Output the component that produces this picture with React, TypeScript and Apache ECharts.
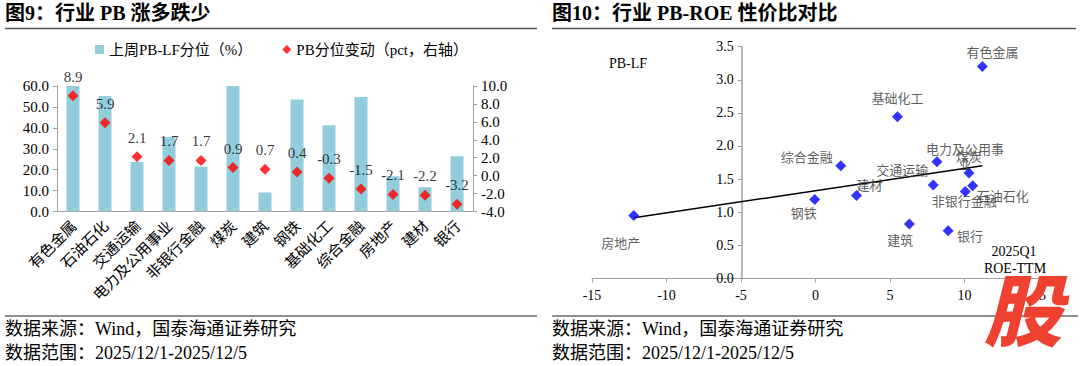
import React, { useEffect, useRef } from "react";
import * as echarts from "echarts";

// ---------- Figure 9 data ----------
const industries = ["有色金属", "石油石化", "交通运输", "电力及公用事业", "非银行金融", "煤炭", "建筑", "钢铁", "基础化工", "综合金融", "房地产", "建材", "银行"];
const pbPercentile = [60, 55.2, 23.7, 35.5, 21.5, 60, 9.1, 53.5, 41.2, 54.8, 16.9, 11.6, 26.4];
const pbChange = [8.9, 5.9, 2.1, 1.7, 1.7, 0.9, 0.7, 0.4, -0.3, -1.5, -2.1, -2.2, -3.2];

// ---------- Figure 10 data ----------
const scatterNames = ["有色金属", "基础化工", "电力及公用事业", "综合金融", "煤炭", "交通运输", "石油石化", "非银行金融", "建材", "钢铁", "建筑", "银行", "房地产"];
const roeTTM = [11.2, 5.5, 8.15, 1.7, 10.3, 7.9, 10.55, 10.05, 2.75, -0.05, 6.3, 8.9, -12.2];
const pbLF = [3.2, 2.44, 1.76, 1.7, 1.59, 1.41, 1.4, 1.31, 1.25, 1.19, 0.82, 0.72, 0.95];
const trendX = [-12.2, 11.2];
const trendY = [0.915, 1.7];

const SERIF = "'Times New Roman', 'Liberation Serif', 'Noto Sans CJK SC', serif";
const CJK = "'Noto Sans CJK SC', 'Liberation Serif', sans-serif";
const AXIS_GRAY = "#A0A0A0";

// label placement (style only)
const labelOffsets: Record<string, number[]> = {
  有色金属: [10, -15],
  基础化工: [0, -19],
  电力及公用事业: [28, -6],
  综合金融: [-34, -9],
  煤炭: [0, -18],
  交通运输: [-31, -15],
  石油石化: [30, 10],
  非银行金融: [-1, 9],
  建材: [13, -11],
  钢铁: [-11, 13],
  建筑: [-9, 15],
  银行: [22, 5],
  房地产: [-13, 27],
};
const labelText: Record<string, string> = { 电力及公用事业: "电力及公用事\n业" };

export default function App() {
  const ref = useRef<HTMLDivElement>(null);
  useEffect(() => {
    if (!ref.current) return;
    const chart = echarts.init(ref.current, null, { renderer: "svg" });
    const scatterData = scatterNames.map((n, i) => ({
      name: n,
      value: [roeTTM[i], pbLF[i]],
      label: { offset: labelOffsets[n] || [0, 0] },
    }));
    const option: any = {
      animation: false,
      backgroundColor: "#fff",
      textStyle: { fontFamily: SERIF },
      legend: {
        data: [
          { name: "上周PB-LF分位（%）", icon: "rect" },
          { name: "PB分位变动（pct，右轴）", icon: "diamond" },
        ],
        left: 90,
        top: 37,
        itemWidth: 9,
        itemHeight: 9,
        itemGap: 30,
        textStyle: { fontFamily: SERIF, fontSize: 15, color: "#000" },
      },
      grid: [
        { left: 57, top: 86, width: 416, height: 125.5 },
        { left: 592, top: 46.7, width: 447, height: 231.6 },
      ],
      xAxis: [
        {
          type: "category",
          gridIndex: 0,
          data: industries,
          axisLine: { lineStyle: { color: AXIS_GRAY } },
          axisTick: { lineStyle: { color: AXIS_GRAY }, length: 4 },
          axisLabel: { rotate: 45, fontSize: 15, fontFamily: CJK, color: "#000", margin: 11, interval: 0 },
        },
        {
          type: "value",
          gridIndex: 1,
          min: -15,
          max: 15,
          interval: 5,
          splitLine: { show: false },
          axisLine: { onZero: false, lineStyle: { color: AXIS_GRAY } },
          axisTick: { show: true, lineStyle: { color: AXIS_GRAY }, length: 4 },
          axisLabel: { fontSize: 14, color: "#000", margin: 10 },
        },
      ],
      yAxis: [
        {
          type: "value",
          gridIndex: 0,
          min: 0,
          max: 60,
          interval: 10,
          splitLine: { show: false },
          axisLine: { show: true, onZero: false, lineStyle: { color: AXIS_GRAY } },
          axisTick: { show: true, lineStyle: { color: AXIS_GRAY }, length: 4 },
          axisLabel: { fontSize: 15, color: "#000", formatter: (v: number) => v.toFixed(1), margin: 8 },
        },
        {
          type: "value",
          gridIndex: 0,
          position: "right",
          min: -4,
          max: 10,
          interval: 2,
          splitLine: { show: false },
          axisLine: { show: true, onZero: false, lineStyle: { color: AXIS_GRAY } },
          axisTick: { show: true, lineStyle: { color: AXIS_GRAY }, length: 4 },
          axisLabel: { fontSize: 15, color: "#000", formatter: (v: number) => v.toFixed(1), margin: 8 },
        },
        {
          type: "value",
          gridIndex: 1,
          min: 0,
          max: 3.5,
          interval: 0.5,
          offset: -149.7,
          splitLine: { show: false },
          axisLine: { show: true, onZero: false, lineStyle: { color: AXIS_GRAY, width: 1.5 } },
          axisTick: { show: true, lineStyle: { color: AXIS_GRAY }, length: 4 },
          axisLabel: { fontSize: 14, color: "#000", formatter: (v: number) => v.toFixed(1), margin: 8 },
        },
      ],
      series: [
        {
          name: "上周PB-LF分位（%）",
          type: "bar",
          xAxisIndex: 0,
          yAxisIndex: 0,
          data: pbPercentile,
          barWidth: 13,
          itemStyle: { color: "#92CDDC" },
        },
        {
          name: "PB分位变动（pct，右轴）",
          type: "scatter",
          xAxisIndex: 0,
          yAxisIndex: 1,
          data: pbChange,
          symbol: "diamond",
          symbolSize: 11,
          itemStyle: { color: "#FF0000" },
          label: {
            show: true,
            position: "top",
            distance: 6,
            fontSize: 15,
            color: "#000",
            fontFamily: SERIF,
            formatter: (p: any) => Number(p.value).toFixed(1),
          },
          z: 5,
        },
        {
          name: "trend",
          type: "line",
          xAxisIndex: 1,
          yAxisIndex: 2,
          data: trendX.map((x, i) => [x, trendY[i]]),
          showSymbol: false,
          symbol: "none",
          lineStyle: { color: "#000", width: 1.5 },
          z: 3,
        },
        {
          name: "PB-ROE",
          type: "scatter",
          xAxisIndex: 1,
          yAxisIndex: 2,
          data: scatterData,
          symbol: "diamond",
          symbolSize: 11,
          itemStyle: { color: "#0000FF" },
          label: {
            show: true,
            position: "inside",
            fontSize: 13,
            lineHeight: 15,
            color: "#333",
            fontFamily: CJK,
            formatter: (p: any) => labelText[p.name] || p.name,
          },
          z: 4,
        },
      ],
      graphic: [
        { type: "text", left: 5, top: 3, style: { text: "图9：行业 PB 涨多跌少", font: `bold 20px ${SERIF}`, fill: "#000" } },
        { type: "line", shape: { x1: 5, y1: 28.5, x2: 537, y2: 28.5 }, style: { stroke: "#555", lineWidth: 1.5 } },
        { type: "text", left: 552, top: 3, style: { text: "图10：行业 PB-ROE 性价比对比", font: `bold 20px ${SERIF}`, fill: "#000" } },
        { type: "line", shape: { x1: 552, y1: 28.5, x2: 1076, y2: 28.5 }, style: { stroke: "#555", lineWidth: 1.5 } },
        { type: "line", shape: { x1: 5, y1: 316, x2: 537, y2: 316 }, style: { stroke: "#222", lineWidth: 1.2 } },
        { type: "line", shape: { x1: 552, y1: 316, x2: 1078, y2: 316 }, style: { stroke: "#222", lineWidth: 1.2 } },
        { type: "text", left: 5, top: 320, style: { text: "数据来源：Wind，国泰海通证券研究", font: `18px ${SERIF}`, fill: "#000" } },
        { type: "text", left: 5, top: 344, style: { text: "数据范围：2025/12/1-2025/12/5", font: `18px ${SERIF}`, fill: "#000" } },
        { type: "text", left: 552, top: 320, style: { text: "数据来源：Wind，国泰海通证券研究", font: `18px ${SERIF}`, fill: "#000" } },
        { type: "text", left: 552, top: 344, style: { text: "数据范围：2025/12/1-2025/12/5", font: `18px ${SERIF}`, fill: "#000" } },
        { type: "text", x: 628, y: 63, style: { text: "PB-LF", font: `14px ${SERIF}`, fill: "#000", align: "center", verticalAlign: "middle" } },
        { type: "text", x: 1014, y: 251, style: { text: "2025Q1", font: `14px ${SERIF}`, fill: "#000", align: "center", verticalAlign: "middle" } },
        { type: "text", x: 1015, y: 268, style: { text: "ROE-TTM", font: `14px ${SERIF}`, fill: "#000", align: "center", verticalAlign: "middle" } },
        { type: "text", x: 1023, y: 306, z: 100, style: { text: "股", font: `italic 900 78px ${CJK}`, fill: "#EE4130", align: "center", verticalAlign: "middle" } },
      ],
    };
    chart.setOption(option);
    return () => chart.dispose();
  }, []);
  return <div ref={ref} style={{ position: "fixed", left: 0, top: 0, width: 1080, height: 366, background: "#fff" }} />;
}
